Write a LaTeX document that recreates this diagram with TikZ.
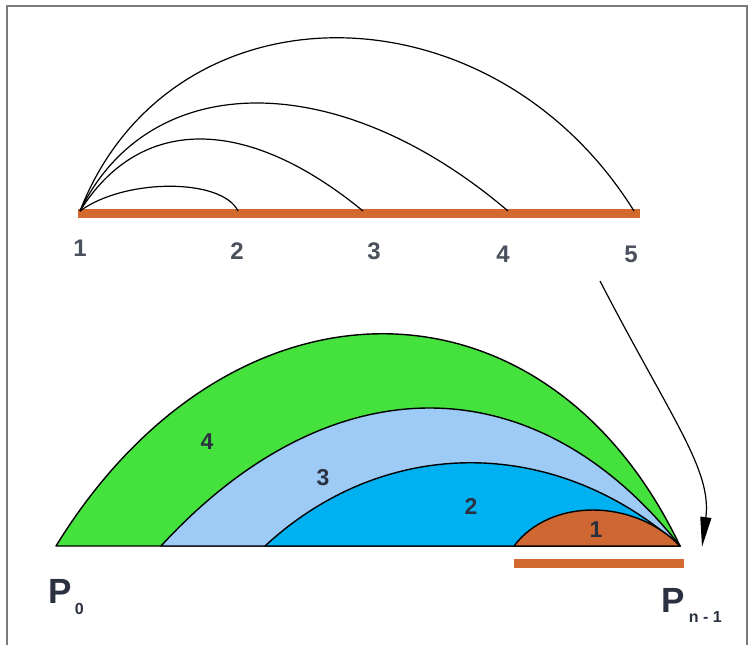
\documentclass[tikz,border=0pt]{standalone}
\usepackage{fontspec}
\setmainfont{Liberation Sans}
\usetikzlibrary{arrows.meta}
\definecolor{cbar}{HTML}{D2692F}
\definecolor{cgreen}{HTML}{45E23D}
\definecolor{clight}{HTML}{9DCBF5}
\definecolor{cblue}{HTML}{00B1F1}
\definecolor{corange}{HTML}{CE6731}
\definecolor{cink}{HTML}{2B3140}
\definecolor{cframe}{HTML}{7A7A7A}

\begin{document}
\begin{tikzpicture}[x=1pt,y=-1pt,
  bar/.style={cbar,line width=9pt},
  link/.style={black,line width=1.2pt},
  part/.style={draw=black,line width=1.4pt,line join=round},
  num/.style={font=\bfseries\fontsize{24}{24}\selectfont,text=cink!85,inner sep=0pt,anchor=base},
  tag/.style={font=\bfseries\fontsize{23}{23}\selectfont,text=cink,inner sep=0pt},
  pt/.style={font=\bfseries\fontsize{35}{35}\selectfont,text=cink,inner sep=0pt,anchor=base west},
  sub/.style={font=\bfseries\fontsize{16}{16}\selectfont,text=cink,inner sep=0pt,anchor=base west}]
  \useasboundingbox (0,0) rectangle (751,645);
  \draw[cframe,line width=1.5pt] (7,645) -- (7,6) -- (747,6) -- (747,645);

  % upper row: five points, every arc leaves point 1
  \coordinate (a1) at (80,211);
  \coordinate (a2) at (238,211);
  \coordinate (a3) at (363,211);
  \coordinate (a4) at (508,211);
  \coordinate (a5) at (634,211);
  \draw[bar] (78,213) -- (640,213);
  \draw[link] (a1) .. controls (125,178) and (222,178) .. (a2);
  \draw[link] (a1) .. controls (140,115) and (246,115) .. (a3);
  \draw[link] (a1) .. controls (150,67) and (339,67) .. (a4);
  \draw[link] (a1) .. controls (170,-20) and (490,-20) .. (a5);
  \node[num] (n1) at (80,256) {1};
  \node[num] (n2) at (237,259) {2};
  \node[num] (n3) at (374,259) {3};
  \node[num] (n4) at (503,262) {4};
  \node[num] (n5) at (631,262) {5};

  % lower row: nested parts ending at P_{n-1}
  \coordinate (p0) at (56,546);
  \coordinate (pn) at (680,546);
  \filldraw[part,fill=cgreen] (p0) .. controls (230,263) and (545,263) .. (pn) -- cycle;
  \filldraw[part,fill=clight] (161,546) .. controls (330,362) and (535,362) .. (pn) -- cycle;
  \filldraw[part,fill=cblue] (265,546) .. controls (385,435) and (555,435) .. (pn) -- cycle;
  \filldraw[part,fill=corange] (514,546) .. controls (550,498) and (633,498) .. (pn) -- cycle;
  \draw[bar] (514,563) -- (684,563);
  \node[tag] (r4) at (207,442) {4};
  \node[tag] (r3) at (323,478) {3};
  \node[tag] (r2) at (471,506) {2};
  \node[tag] (r1) at (596,530) {1};

  \node[pt] (P0) at (48,603) {P};
  \node[sub] at (P0.base east) [xshift=3pt,yshift=-11pt] {0};
  \node[pt] (Pn) at (661,612) {P};
  \node[sub] at (Pn.base east) [xshift=4pt,yshift=-10pt] {n - 1};

  % 5 goes over to the end point
  \coordinate (from5) at (600,281);
  \coordinate (toPn) at (702,547);
  \draw[link,-{Triangle[length=30pt,width=11pt]}] (from5) .. controls (672,420) and (712,470) .. (toPn);
\end{tikzpicture}
\end{document}
